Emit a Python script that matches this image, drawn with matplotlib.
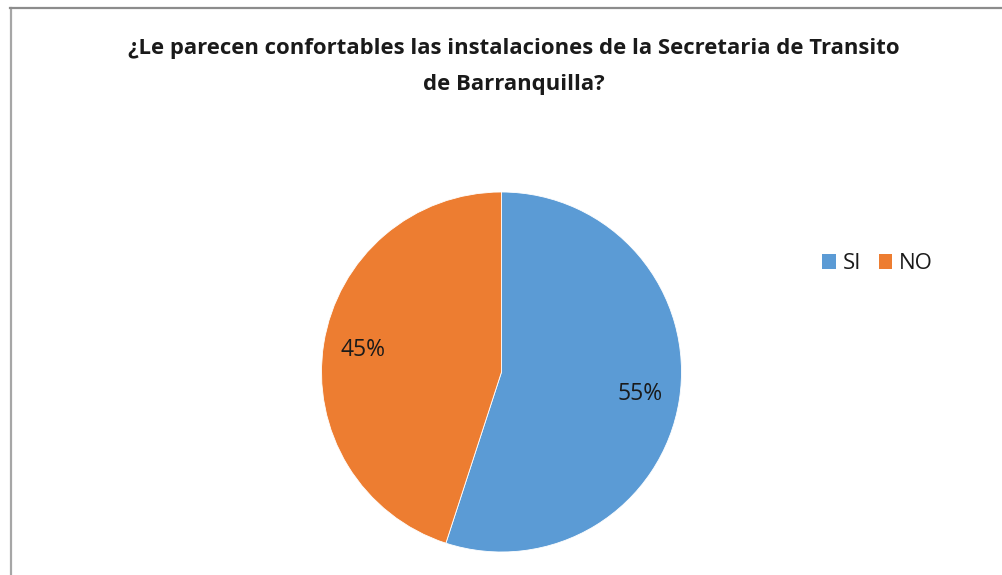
import matplotlib.pyplot as plt
from matplotlib.lines import Line2D
from matplotlib.patches import Patch

plt.rcParams['font.family'] = ['Open Sans', 'DejaVu Sans']

# datos de la encuesta
categorias = ['SI', 'NO']
porcentajes = [55, 45]
colores = ['#5b9bd5', '#ed7d31']
titulo = '¿Le parecen confortables las instalaciones de la Secretaria de Transito\nde Barranquilla?'

W, H = 1003, 575
fig = plt.figure(figsize=(W / 100, H / 100), dpi=100)

# borde del area del grafico
fig.add_artist(Line2D([10.5 / W, 10.5 / W], [0, (H - 8) / H], transform=fig.transFigure,
                      color='#a6a6a6', lw=1.6))
fig.add_artist(Line2D([10 / W, 1002 / W], [(H - 8) / H, (H - 8) / H], transform=fig.transFigure,
                      color='#8c8c8c', lw=1.6))

fig.text(514 / W, 1 - 66.5 / H, titulo, ha='center', va='center', fontsize=15.9,
         fontweight='bold', linespacing=1.98, color='#1a1a1a')

cx, cy, r = 501.5, 372, 180
ax = fig.add_axes([(cx - r) / W, (H - cy - r) / H, 2 * r / W, 2 * r / H])
wedges, textos, auto = ax.pie(porcentajes, colors=colores, startangle=90, counterclock=False,
                               autopct='%d%%', pctdistance=0.78, radius=1,
                               wedgeprops=dict(edgecolor='white', linewidth=0.6),
                               textprops=dict(fontsize=16.5, color='#1a1a1a'))
ax.set_xlim(-1, 1)
ax.set_ylim(-1, 1)
ax.set_aspect('equal')
ax.axis('off')

manejadores = [Patch(facecolor=c, edgecolor='none') for c in colores]
fig.legend(manejadores, categorias, loc='center left', bbox_to_anchor=(802 / W, 1 - 264 / H),
           ncol=2, frameon=False, fontsize=16, handlelength=0.62, handleheight=0.62,
           handletextpad=0.3, columnspacing=0.8, labelcolor='#1a1a1a')

fig.savefig('out.png', dpi=100, facecolor='white')
